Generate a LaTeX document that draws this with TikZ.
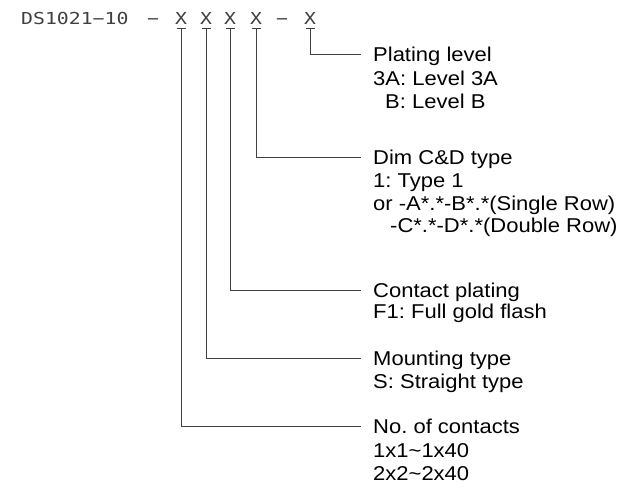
\documentclass[tikz,border=0pt]{standalone}
\usepackage{fontspec}
\setmainfont{Liberation Sans}[FakeStretch=1.1]
\newfontfamily\titlefont{DejaVu Sans Mono}[FakeStretch=1.2]
\frenchspacing
\begin{document}
\frenchspacing
\begin{tikzpicture}[x=1pt,y=-1pt,
  lbl/.style={anchor=base west, inner sep=0pt, font=\fontsize{20}{22}\selectfont\frenchspacing, text=black},
  ttl/.style={anchor=base, inner sep=0pt, font=\titlefont\fontsize{16.5}{18}\selectfont, text=black!75},
  ln/.style={draw=black!75, line width=0.8pt}]
\useasboundingbox (0,0) rectangle (630,493);
% title
\node[ttl, anchor=base west] (pn) at (21,24.3) {DS1021−10};
\node[ttl] (d1) at (153,24.3) {−};
\node[ttl] (x1) at (181,24.3) {X};
\node[ttl] (x2) at (206,24.3) {X};
\node[ttl] (x3) at (230,24.3) {X};
\node[ttl] (x4) at (256,24.3) {X};
\node[ttl] (d2) at (282,24.3) {−};
\node[ttl] (x5) at (310,24.3) {X};
\foreach \i in {1,...,5}{
  \coordinate (u\i) at ([yshift=-4pt]x\i.base);
  \draw[ln] ([xshift=-4.5pt]u\i) -- ([xshift=4.5pt]u\i);
}
% headings
\node[lbl] (h5) at (373,61) {Plating level};
\node[lbl] (h4) at (373,164) {Dim C\&D type};
\node[lbl] (h3) at (373,297) {Contact plating};
\node[lbl] (h2) at (373,365) {Mounting type};
\node[lbl] (h1) at (373,433) {No. of contacts};
% details
\node[lbl] (p1) at (373,85) {3A: Level 3A};
\node[lbl] (p2) at (385,108) {B: Level B};
\node[lbl] (c1) at (373,187) {1: Type 1};
\node[lbl] (c2) at (373,210) {or -A*.*-B*.*(Single Row)};
\node[lbl] (c3) at (390,232) {-C*.*-D*.*(Double Row)};
\node[lbl] (f1) at (373,318.5) {F1: Full gold flash};
\node[lbl] (s1) at (373,388) {S: Straight type};
\node[lbl] (n1) at (373,457) {1x1\textasciitilde1x40};
\node[lbl] (n2) at (373,480) {2x2\textasciitilde2x40};
% connectors
\foreach \i in {1,...,5}{
  \draw[ln] (u\i) |- ([xshift=-12pt,yshift=7pt]h\i.base west);
}
\end{tikzpicture}
\end{document}
